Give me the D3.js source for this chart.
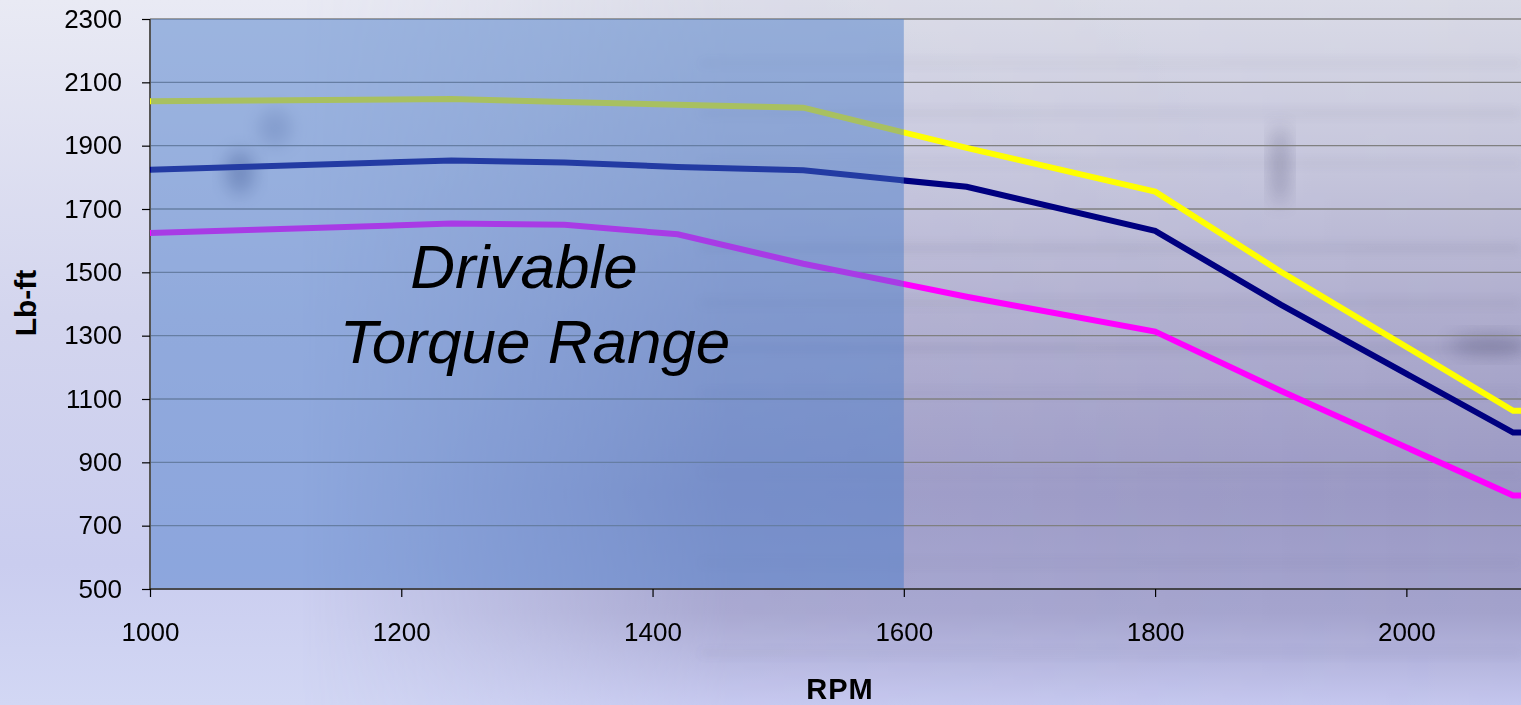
<!DOCTYPE html>
<meta charset="utf-8">
<style>
html, body { margin: 0; padding: 0; overflow: hidden; }
body { width: 1521px; height: 705px; font-family: Arial, "Liberation Sans", sans-serif; }
.axis text { font-family: Arial, "Liberation Sans", sans-serif; font-size: 26px; fill: #000; }
.axis line { stroke: #000; stroke-width: 1.2; }
.grid line { stroke: #808080; stroke-width: 1.3; }
.series { fill: none; stroke-width: 6; stroke-linejoin: miter; }
</style>
<body>
<script src="https://cdnjs.cloudflare.com/ajax/libs/d3/7.8.5/d3.min.js"></script>
<script>

// torque curves (RPM vs Lb-ft)
var rpm     = [1000, 1240, 1330, 1420, 1520, 1650, 1800, 1900, 2085, 2100];
var highCurve = [2040, 2047, 2038, 2029, 2020, 1893, 1755, 1502, 1063, 1063];
var midCurve  = [1824, 1853, 1847, 1833, 1822, 1770, 1631, 1398, 994, 994];
var lowCurve  = [1624, 1654, 1650, 1620, 1527, 1423, 1313, 1126, 795, 795];

var xTicks = [1000, 1200, 1400, 1600, 1800, 2000];
var yTicks = [500, 700, 900, 1100, 1300, 1500, 1700, 1900, 2100, 2300];
var drivableEnd = 1600;

var W = 1521, H = 705;

var svg = d3.select("body").append("svg")
    .attr("width", W)
    .attr("height", H);

var x = d3.scaleLinear().domain([1000, 2100]).range([150, 1532]);
var y = d3.scaleLinear().domain([500, 2300]).range([589, 19]);

var defs = svg.append("defs");

// slide background
var bg = defs.append("linearGradient").attr("id", "bg")
    .attr("x1", 0).attr("y1", 0).attr("x2", 0).attr("y2", 1);
bg.append("stop").attr("offset", "0%").attr("stop-color", "#e9eaf4");
bg.append("stop").attr("offset", "45%").attr("stop-color", "#d3d5ee");
bg.append("stop").attr("offset", "80%").attr("stop-color", "#cacdef");
bg.append("stop").attr("offset", "100%").attr("stop-color", "#d2d7f4");

// darker photo-like area on the right
var photo = defs.append("linearGradient").attr("id", "photo")
    .attr("x1", 0).attr("y1", 0).attr("x2", 0).attr("y2", 1);
photo.append("stop").attr("offset", "0%").attr("stop-color", "#d9dae6");
photo.append("stop").attr("offset", "25%").attr("stop-color", "#c3c3da");
photo.append("stop").attr("offset", "45%").attr("stop-color", "#aeaccd");
photo.append("stop").attr("offset", "70%").attr("stop-color", "#9997c3");
photo.append("stop").attr("offset", "87%").attr("stop-color", "#a3a2cc");
photo.append("stop").attr("offset", "100%").attr("stop-color", "#c4c6ee");

var fade = defs.append("linearGradient").attr("id", "fade")
    .attr("x1", 0).attr("y1", 0).attr("x2", 1).attr("y2", 0);
fade.append("stop").attr("offset", "0%").attr("stop-color", "#fff").attr("stop-opacity", 0);
fade.append("stop").attr("offset", "35%").attr("stop-color", "#fff").attr("stop-opacity", 0.85);
fade.append("stop").attr("offset", "100%").attr("stop-color", "#fff").attr("stop-opacity", 1);

defs.append("mask").attr("id", "fadeMask")
  .append("rect").attr("x", 300).attr("y", 0).attr("width", W - 300).attr("height", H)
    .attr("fill", "url(#fade)");

defs.append("filter").attr("id", "blur").attr("x", "-20%").attr("y", "-200%")
    .attr("width", "140%").attr("height", "500%")
  .append("feGaussianBlur").attr("stdDeviation", 5);
defs.append("filter").attr("id", "blurBig").attr("x", "-50%").attr("y", "-50%")
    .attr("width", "200%").attr("height", "200%")
  .append("feGaussianBlur").attr("stdDeviation", 9);

svg.append("rect").attr("width", W).attr("height", H).attr("fill", "url(#bg)");
svg.append("rect").attr("x", 300).attr("width", W - 300).attr("height", H)
    .attr("fill", "url(#photo)").attr("mask", "url(#fadeMask)");

// soft streaks / smudges from the background photo
var streaks = [[60, 0.08], [110, 0.10], [160, 0.06], [245, 0.14], [300, 0.10], [345, 0.16], [390, 0.08], [470, 0.06], [560, 0.06], [650, 0.08]];
svg.append("g").attr("mask", "url(#fadeMask)").selectAll("rect")
    .data(streaks)
  .enter().append("rect")
    .attr("x", 700).attr("y", function(d) { return d[0]; })
    .attr("width", W - 700).attr("height", 6)
    .attr("fill", "#5a5878")
    .attr("opacity", function(d) { return d[1]; })
    .attr("filter", "url(#blur)");

var smudges = [[1280, 165, 8, 40, 0.35], [1490, 345, 40, 10, 0.35], [240, 172, 14, 22, 0.45], [275, 128, 16, 18, 0.25]];
svg.append("g").selectAll("ellipse")
    .data(smudges)
  .enter().append("ellipse")
    .attr("cx", function(d) { return d[0]; })
    .attr("cy", function(d) { return d[1]; })
    .attr("rx", function(d) { return d[2]; })
    .attr("ry", function(d) { return d[3]; })
    .attr("fill", "#4a4a70")
    .attr("opacity", function(d) { return d[4]; })
    .attr("filter", "url(#blurBig)");

// gridlines
svg.append("g").attr("class", "grid")
  .selectAll("line")
    .data(yTicks)
  .enter().append("line")
    .attr("x1", x(1000)).attr("x2", W)
    .attr("y1", function(d) { return y(d); })
    .attr("y2", function(d) { return y(d); });

// left axis line sits under the shaded range
svg.append("line")
    .attr("x1", x(1000)).attr("x2", x(1000))
    .attr("y1", y(2300)).attr("y2", y(500))
    .attr("stroke", "#555").attr("stroke-width", 2);

var line = d3.line()
    .x(function(d) { return x(d[0]); })
    .y(function(d) { return y(d[1]); });

var series = [
  {name: "high", values: highCurve, color: "#ffff00"},
  {name: "mid",  values: midCurve,  color: "#000080"},
  {name: "low",  values: lowCurve,  color: "#ff00ff"}
];

svg.selectAll(".series")
    .data(series)
  .enter().append("path")
    .attr("class", "series")
    .attr("stroke", function(d) { return d.color; })
    .attr("d", function(d) { return line(d3.zip(rpm, d.values)); });

// drivable torque range shading (semi transparent, over the lines)
svg.append("rect")
    .attr("x", x(1000) + 1)
    .attr("y", y(2300))
    .attr("width", x(drivableEnd) - x(1000) - 1)
    .attr("height", y(500) - y(2300) - 1)
    .attr("fill", "rgb(74,124,200)")
    .attr("opacity", 0.48);

// axes
var yAxis = d3.axisLeft(y).tickValues(yTicks).tickSize(8).tickPadding(20).tickFormat(d3.format("d"));
var xAxis = d3.axisBottom(x).tickValues(xTicks).tickSize(8).tickPadding(26).tickFormat(d3.format("d"));

var gy = svg.append("g").attr("class", "axis")
    .attr("transform", "translate(" + x(1000) + ",0)")
    .call(yAxis);
gy.select(".domain").remove();

var gx = svg.append("g").attr("class", "axis")
    .attr("transform", "translate(0," + y(500) + ")")
    .call(xAxis);
gx.select(".domain").remove();
gx.append("line")
    .attr("x1", x(1000)).attr("x2", W)
    .attr("stroke", "#222").attr("stroke-width", 2);

// axis titles
svg.append("text")
    .attr("x", 840).attr("y", 699)
    .attr("text-anchor", "middle")
    .style("font", "bold 29px Arial, 'Liberation Sans', sans-serif")
    .style("letter-spacing", "1px")
    .text("RPM");

svg.append("text")
    .attr("transform", "translate(36,303) rotate(-90)")
    .attr("text-anchor", "middle")
    .style("font", "bold 30px Arial, 'Liberation Sans', sans-serif")
    .text("Lb-ft");

// range annotation
var note = svg.append("text")
    .attr("text-anchor", "middle")
    .style("font", "italic 62px Arial, 'Liberation Sans', sans-serif")
    .attr("fill", "#000");
note.append("tspan").attr("x", 524).attr("y", 288).text("Drivable");
note.append("tspan").attr("x", 535).attr("y", 363).text("Torque Range");

</script>
